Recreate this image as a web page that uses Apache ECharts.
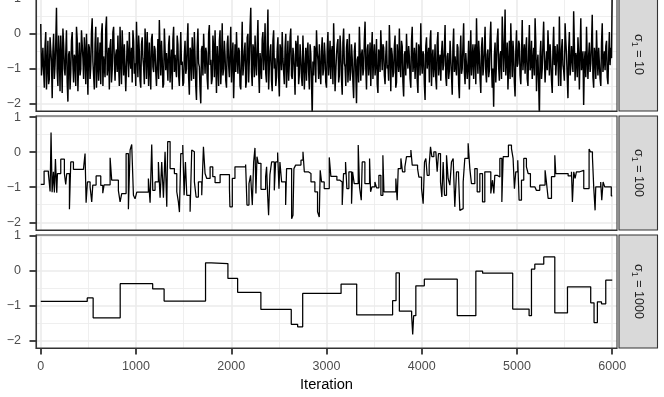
<!DOCTYPE html>
<html><head><meta charset="utf-8">
<script src="https://cdn.jsdelivr.net/npm/echarts@6/dist/echarts.min.js"></script>
<style>html,body{margin:0;padding:0;background:#fff}#c{width:664px;height:397px}</style>
</head><body><div id="c"></div>
<script>
// ---- data ----
const xTicks = [0, 1000, 2000, 3000, 4000, 5000, 6000];
const yTicks = [-2, -1, 0, 1];
const panelSigma = ['10', '100', '1000'];   // strip labels: σ₁ = value
const xAxisTitle = 'Iteration';

// sigma1 = 10 : trace read every 15 iterations (0 .. 6000)
const sigma10Step = 15;
const sigma10Values = [
  0.28, -0.85, -1.05, -0.35, -1.6, -0.2, -1.3, -0.45, -1.85, 0.0, -0.9, 0.75, -1.5, -0.6, -0.05, -1.7, -0.3, -1.2, 0.1, -1.95,
  -0.5, -1.1, 0.05, -1.4, -0.7, 0.2, -1.65, -0.25, -1.0, 0.15, -1.3, -0.55, 0.0, -1.75, -0.4, -0.95, 0.45, -1.2, -0.3, -1.55,
  -0.1, -0.8, -1.45, 0.3, -0.65, -1.25, 0.5, -0.9, -1.6, -0.15, -1.05, 0.2, -1.35, -0.45, -0.05, -1.5, -0.75, 0.1, -1.2, -0.35,
  -1.6, -0.6, 0.05, -1.0, -1.4, -0.2, -0.85, 0.35, -1.25, -0.5, -1.55, -0.1, -0.95, 0.15, -1.3, -0.7, -0.25, -1.6, 0.0, -1.1,
  -0.45, -1.5, -0.15, 0.4, -1.2, -0.7, -1.45, 0.1, -0.55, -1.35, -0.05, -0.9, -1.6, 0.2, -0.6, -1.25, -0.3, -1.5, 0.05, -0.8,
  -1.4, -0.2, -1.0, 0.3, -1.75, -0.5, -0.1, -1.3, -0.65, -1.9, 0.15, -0.95, -2.0, -0.35, 0.0, -1.15, -0.55, -1.6, 0.25, -0.75,
  -1.3, -0.4, 0.1, -1.7, -0.85, -0.2, -1.45, 0.3, -1.0, -0.6, -1.55, -0.05, -1.25, 0.2, -0.7, -1.85, -0.3, 0.05, -1.15, -0.5,
  -1.6, 0.35, -0.9, -0.25, -1.35, 0.0, -0.75, 0.75, -1.5, -0.45, -0.05, -1.2, 0.4, -1.7, -0.6, -0.15, -1.05, 0.3, -1.4, 0.7,
  -0.95, -0.3, -1.65, 0.1, -0.7, -1.25, -0.1, -1.8, -0.5, 0.05, -1.1, -0.4, -1.55, -0.2, -0.85, 0.15, -1.3, -0.6, -1.75, -0.35,
  -0.05, -1.15, -0.7, -1.5, 0.0, -0.9, -1.35, -0.25, -1.6, -0.55, -2.4, -1.2, -0.45, 0.1, -0.75, -0.3, -1.45, -0.1, -1.0, -0.6,
  -1.55, 0.05, -0.8, -1.3, -0.35, 0.3, -1.65, -0.6, -0.15, -1.2, -0.5, -1.75, 0.15, -0.95, -0.4, -1.4, 0.0, -1.1, -0.7, -1.85,
  -0.25, -2.0, -0.65, 0.2, -1.35, -0.45, -1.0, 0.35, -1.6, -0.3, -0.85, -1.5, 0.05, -0.7, -1.2, -0.15, -1.7, -0.55, 0.1, -1.05,
  -0.4, -1.45, -0.2, -0.9, 0.25, -1.65, -0.6, -1.1, -0.05, -1.4, -0.75, 0.15, -1.25, -0.35, -1.8, -0.5, 0.0, -1.0, -0.65, -1.55,
  0.2, -0.85, -1.3, -0.25, -1.7, -0.45, 0.3, -1.15, -0.6, -1.9, -0.1, -0.95, -1.4, 0.1, -0.7, -1.25, -0.3, -1.6, 0.05, -0.8,
  -1.35, -0.2, -0.9, 0.25, -1.5, -0.55, -1.05, -0.15, -1.75, 0.15, -0.65, -1.2, -0.4, -1.85, -0.05, -1.0, 0.3, -1.45, -0.5, -0.9,
  -1.6, 0.1, -0.75, -1.3, -0.3, 0.45, -1.15, -0.6, -1.7, -0.1, -0.95, 0.2, -1.4, -0.45, -1.05, 0.35, -1.55, -2.1, -0.25, -0.8,
  0.15, -1.35, -0.5, 0.5, -1.1, 0.7, -0.7, -1.6, -0.2, 0.3, -1.25, -0.55, -1.8, 0.1, -0.85, -0.3, -1.45, 0.4, -0.65, -1.15,
  -0.1, -1.5, 0.25, -0.9, -1.3, -0.4, 0.45, -1.65, -0.6, -2.4, -0.2, -1.0, 0.35, -1.4, -0.5, 0.1, -1.2, -0.75, -1.7, 0.2,
  -0.35, -1.25, -0.8, 0.5, -1.5, -0.15, -1.05, 0.3, -0.6, -1.85, 0.05, -0.95, -0.4, 0.65, -1.35, -0.7, -0.1, -1.6, 0.45, -1.1,
  -2.05, -0.5, 0.2, -1.3, -0.25, -0.85, 0.55, -1.55, -0.6, 0.1, -1.2, -0.35, -1.5, 0.3, -0.8, -1.05, -0.2, -1.45, 0.05, -0.4,
  1.4
];
// sigma1 = 10 : values read half-way between the points above (iterations 7.5, 22.5, ...)
const sigma10MidValues = [
  -1.2, -0.4, -1.55, 0.05, -0.95, -1.45, -0.1, -0.8, -0.5, -1.3, -0.25, -1.1, -0.05, -1.65, -0.7, 0.15, -1.0, -0.55, -1.4, -0.6,
  -1.6, -0.2, -0.9, -0.6, -1.5, -0.15, -0.85, -1.2, 0.1, -0.7, -0.1, -1.45, -0.75, -0.3, -1.3, 0.05, -0.8, -1.6, 0.2, -0.9,
  -1.35, -0.25, 0.0, -1.5, -0.95, 0.15, -1.2, -0.4, -0.35, -1.4, 0.05, -0.8, -0.6, -1.1, -0.9, 0.2, -1.45, -0.55, -0.3, -1.65,
  -0.2, -1.25, -0.75, -0.4, 0.1, -1.15, -1.5, -0.6, -0.05, -1.35, -0.3, -0.7, -1.45, -0.4, 0.05, -1.5, -1.0, -0.15, -0.95, -0.35,
  -1.1, -0.85, -1.3, -0.5, -0.2, -1.55, 0.15, -1.05, -0.9, -0.3, -1.4, -0.45, -0.15, -1.1, -1.0, -0.05, -1.2, -0.7, -0.9, -1.5,
  -0.6, -1.15, -0.3, -1.25, -0.4, -1.35, -0.7, 0.05, -1.5, -0.4, -0.85, -1.6, -0.45, -1.2, -0.6, -0.4, -1.3, 0.0, -0.9, -1.45,
  -0.05, -1.25, -0.8, -0.35, -1.5, 0.1, -0.9, -1.2, -0.2, -1.35, -0.3, -0.9, -0.5, -1.4, -0.25, -1.0, -1.1, -0.65, -0.4, -1.5,
  -0.7, -1.2, -0.5, -1.55, -0.1, -1.4, 0.2, -1.1, -0.3, -1.25, -0.8, -0.35, -1.05, -0.55, -1.3, 0.05, -0.6, -1.15, -0.3, -1.6,
  -0.5, -1.35, -0.2, -1.0, -1.5, -0.45, -1.25, -0.3, -1.05, -0.7, -1.45, 0.0, -0.9, -1.35, -0.1, -1.2, -0.4, -1.1, -0.2, -0.95,
  -1.45, -0.3, -1.25, -0.05, -1.6, -0.4, -0.55, -1.1, -0.3, -1.35, -0.8, -0.35, -1.4, -0.5, -1.3, -1.05, -0.5, -1.2, -0.25, -1.4,
  -0.45, -1.2, -0.2, -0.55, -1.45, -0.6, -1.1, -0.3, -1.4, -0.05, -1.3, -0.25, -0.85, -1.5, -0.15, -0.9, -1.35, -0.3, -1.4, -0.5,
  -1.1, -0.75, -1.4, -0.5, -0.6, -1.2, -0.15, -1.0, -0.45, -1.2, -0.25, -0.55, -1.3, -0.3, -0.85, -1.45, -0.45, -1.1, -0.5, -0.3,
  -1.2, -0.6, -1.0, -1.35, -0.5, -0.4, -1.25, -0.35, -1.55, -0.3, -1.1, -0.9, -0.2, -1.4, -0.6, -1.2, -0.7, -0.35, -1.3, -0.2,
  -1.1, -0.4, -0.7, -1.35, -0.3, -1.2, -0.8, -0.5, -1.45, -0.35, -1.0, -0.4, -0.2, -1.5, -0.45, -0.9, -1.3, -0.25, -1.2, -0.6,
  -0.55, -1.05, -0.4, -1.25, -0.65, -1.3, -0.2, -1.2, -0.4, -1.1, -0.95, -0.3, -1.45, -0.6, -1.15, -0.35, -1.1, -0.55, -1.3, -0.2,
  -0.75, -1.2, -0.3, -0.55, -1.45, -0.65, -0.2, -1.3, -0.4, -1.2, -0.4, -1.1, -0.6, -1.25, -0.15, -0.9, -1.0, -0.6, -1.4, -0.15,
  -0.95, -0.6, -1.3, -0.2, -0.5, -1.2, -0.25, -0.9, -1.3, -0.55, -0.2, -1.4, -0.5, -0.95, -0.2, -1.2, -0.6, -1.05, -0.3, -0.5,
  -1.3, -0.5, -1.05, -0.2, -0.8, -1.2, -0.25, -0.9, -1.4, -0.6, -1.3, -0.25, -0.7, -0.85, -1.05, -0.45, -0.3, -1.35, -0.45, -0.9,
  -1.2, -0.3, -1.5, -0.7, -0.45, -0.9, -1.35, -0.2, -1.25, -0.45, -1.2, -0.35, -1.1, -0.3, -0.55, -1.25, -0.6, -0.5, -1.05, -0.5,
  -0.8, -1.25, -0.7, -0.6, -1.1, -0.3, -1.25, -0.4, -1.3, -0.7, -0.4, -1.3, -0.25, -1.1, -0.5, -0.35, -1.25, -0.6, -0.9, -0.7
];

// sigma1 = 100 : change points (iteration where value changes) and new values
const sigma100Iter = [
  0, 35, 80, 98, 108, 119, 133, 143, 154, 168, 175, 210, 248, 262, 273, 301, 315, 343, 448, 465,
  476, 490, 518, 535, 546, 581, 630, 651, 665, 728, 745, 815, 833, 850, 896, 920, 938, 955, 973, 990,
  1008, 1095, 1130, 1148, 1165, 1176, 1200, 1235, 1253, 1270, 1288, 1305, 1323, 1333, 1358, 1403, 1428, 1445, 1456, 1470,
  1491, 1505, 1519, 1533, 1568, 1585, 1603, 1613, 1631, 1655, 1690, 1708, 1725, 1743, 1778, 1806, 1830, 1883, 1981, 1986,
  2011, 2039, 2151, 2165, 2186, 2203, 2221, 2235, 2249, 2259, 2270, 2284, 2312, 2361, 2371, 2382, 2392, 2406, 2424, 2452,
  2466, 2487, 2501, 2511, 2529, 2571, 2581, 2634, 2648, 2658, 2676, 2732, 2753, 2767, 2809, 2837, 2878, 2906, 2924, 2934,
  2948, 2976, 3029, 3046, 3109, 3141, 3165, 3179, 3200, 3214, 3235, 3263, 3274, 3291, 3333, 3347, 3365, 3375, 3403, 3452,
  3463, 3477, 3508, 3526, 3550, 3571, 3592, 3603, 3728, 3742, 3753, 3781, 3798, 3823, 3840, 3886, 3900, 3956, 3970, 3998,
  4015, 4029, 4043, 4057, 4078, 4092, 4106, 4127, 4148, 4162, 4176, 4197, 4211, 4225, 4239, 4260, 4277, 4295, 4312, 4330,
  4347, 4365, 4386, 4400, 4417, 4435, 4452, 4487, 4505, 4522, 4557, 4582, 4610, 4638, 4662, 4725, 4743, 4757, 4767, 4792,
  4820, 4841, 4855, 4910, 4942, 4959, 4973, 4987, 5008, 5022, 5047, 5071, 5099, 5117, 5141, 5187, 5204, 5239, 5295, 5309,
  5327, 5362, 5397, 5407, 5537, 5572, 5582, 5596, 5610, 5624, 5659, 5701, 5757, 5771, 5792, 5806, 5820, 5827, 5879, 5890,
  5904, 5921, 5990, 6000
];
const sigma100Values = [
  -0.92, -0.54, -0.61, -1.12, 0.56, -1.14, -0.56, -1.15, -0.2, -1.16, -0.61, -0.2, -0.61, -0.92, -0.61, -1.63, -0.28, -0.49, -0.51, -0.04,
  -1.44, -0.85, -0.99, -1.42, -0.94, -0.68, -0.95, -1.17, -0.93, -0.16, -0.8, -1.1, -1.42, -1.18, -0.04, -1.63, 0.06, 0.22, -1.23, -1.33,
  -1.14, -1.14, -0.75, -1.44, 0.22, -1.09, -0.85, -0.28, -1.3, -0.28, -1.3, 0.01, -1.56, 0.3, -0.47, -0.61, -1.13, -1.42, -1.71, -0.04,
  0.2, -1.23, -0.28, -1.23, -1.7, 0.06, 0.01, -0.85, -1.28, -0.85, -1.23, 0.15, -0.61, -0.75, -0.42, -0.7, -0.87, -0.64, -1.04, -1.56,
  -0.75, -0.42, -0.35, -1.51, -0.9, -0.66, -1.51, -0.28, 0.12, -1.18, -0.13, -0.32, -1.06, -0.7, -0.42, -1.23, -1.8, -0.64, -0.28, -1.09,
  -0.28, -0.01, -1.04, -0.28, -0.85, -1.51, -0.47, -1.9, -1.8, -0.47, -0.37, -0.23, 0.01, -0.56, -0.61, -0.85, -1.13, -1.7, -1.85, -0.52,
  -0.85, -1.04, -0.15, -0.69, -0.8, -0.85, -1.51, -0.61, -0.28, -1.04, -0.56, -1.47, -0.56, -0.9, 0.2, -1.0, -1.37, -0.28, -0.9, -0.18,
  -1.13, -0.99, -0.85, -1.02, -0.66, -1.23, -0.09, -1.13, -0.75, -1.37, -0.47, -0.18, -0.56, -0.42, -0.13, 0.06, -0.37, -0.47, -0.71, -1.04,
  -1.47, -0.28, -0.18, -0.66, -0.37, 0.15, -0.13, 0.01, -0.04, -0.56, -0.04, -0.85, -1.28, -0.28, -1.23, -0.09, -0.75, -0.94, -0.28, -0.18,
  -1.56, -0.56, -0.66, -1.66, -1.61, -0.85, -0.18, 0.25, -0.47, -0.9, -0.47, -1.13, -0.61, -1.42, -0.56, -1.18, -0.8, -1.18, -0.66, -0.71,
  -0.18, -1.42, -0.13, 0.2, 0.1, -0.18, -1.04, -0.56, -0.23, -1.37, -0.8, -0.18, -0.42, -0.61, -0.99, -1.04, -1.09, -0.94, -0.52, -0.85,
  -1.32, -0.7, -0.09, -0.61, -0.68, -0.56, -1.42, -0.56, -0.75, -0.56, -0.52, -1.04, 0.09, 0.01, -0.13, -1.02, -1.66, -0.99, -0.85, -1.37,
  -0.85, -0.99, -1.25, -1.25
];

// sigma1 = 1000 : change points and new values
const sigma1000Iter = [
  0, 488, 550, 834, 1175, 1295, 1730, 1790, 1965, 2067, 2311, 2630, 2697, 2750, 3153, 3317, 3694, 3730, 3765, 3894,
  3905, 3915, 3938, 4027, 4373, 4568, 4639, 4955, 5127, 5152, 5187, 5281, 5397, 5530, 5774, 5809, 5844, 5887, 5932, 6000
];
const sigma1000Values = [
  -0.88, -0.78, -1.35, -0.37, -0.52, -0.87, 0.23, 0.21, -0.22, -0.62, -1.11, -1.54, -1.61, -0.65, -0.38, -1.27, -0.86, -0.06, -1.16, -1.29,
  -1.83, -1.29, -0.43, -0.24, -1.29, -0.01, -0.07, -1.10, -1.29, 0.05, 0.19, 0.40, -1.21, -0.46, -0.92, -1.49, -0.89, -0.95, -0.27, -0.27
];

// ---- build ----
const FONT = '"Liberation Sans", Arial, sans-serif';
const panels = [
  { top: -2, h: 113 },
  { top: 116, h: 114 },
  { top: 235, h: 113 }
];
const PL = 36, PW = 581;

const sigma10Data = [];
sigma10Values.forEach((v, i) => {
  sigma10Data.push([i * sigma10Step, v]);
  if (i < sigma10MidValues.length) sigma10Data.push([i * sigma10Step + sigma10Step / 2, sigma10MidValues[i]]);
});
const seriesData = [
  sigma10Data,
  sigma100Iter.map((x, i) => [x, sigma100Values[i]]),
  sigma1000Iter.map((x, i) => [x, sigma1000Values[i]])
];

const gridLine = { show: true, lineStyle: { color: '#ebebeb', width: 1.6 } };
const minorLine = { show: true, lineStyle: { color: '#ebebeb', width: 0.8 } };
const fmtY = v => (v < 0 ? '\u2212' + Math.abs(v) : String(v));
const tickStyle = { color: '#333333', width: 1.8 };

const option = {
  animation: false,
  backgroundColor: '#ffffff',
  grid: panels.map(p => ({ left: PL, width: PW, top: p.top, height: p.h, show: false, containLabel: false, outerBoundsMode: 'none' })),
  xAxis: panels.map((p, i) => ({
    gridIndex: i, type: 'value', min: -50, max: 6050, position: 'bottom',
    axisLine: { show: true, onZero: false, lineStyle: { color: '#333333', width: 1.1 } },
    axisTick: { show: i === 2, customValues: xTicks, length: 6.5, lineStyle: tickStyle },
    axisLabel: { show: i === 2, customValues: xTicks, formatter: v => String(v), margin: 12, fontSize: 12.5, color: '#4d4d4d', fontFamily: FONT },
    splitLine: gridLine,
    minorTick: { show: false, splitNumber: 2 },
    minorSplitLine: minorLine,
    name: i === 2 ? xAxisTitle : '',
    nameLocation: 'middle', nameGap: 29,
    nameTextStyle: { fontSize: 14.7, color: '#000000', fontFamily: FONT }
  })),
  yAxis: panels.map((p, i) => ({
    gridIndex: i, type: 'value', min: -2.22, max: 1.03, splitNumber: 3, position: 'left',
    axisLine: { show: true, onZero: false, lineStyle: { color: '#333333', width: 1.1 } },
    axisTick: { show: true, customValues: yTicks, length: 6.5, lineStyle: tickStyle },
    axisLabel: { customValues: yTicks, formatter: fmtY, margin: 15, fontSize: 12.5, color: '#4d4d4d', fontFamily: FONT },
    splitLine: gridLine,
    minorTick: { show: false, splitNumber: 2 },
    minorSplitLine: minorLine
  })),
  series: seriesData.map((d, i) => ({
    type: 'line', xAxisIndex: i, yAxisIndex: i, data: d,
    step: i === 0 ? false : 'end',
    showSymbol: false, symbol: 'none', clip: true,
    lineStyle: { color: '#000000', width: i === 0 ? 1.45 : 1.25 },
    emphasis: { disabled: true }
  })),
  graphic: [].concat(
    panels.map(p => ({
      type: 'rect', z: 100, silent: true,
      shape: { x: PL, y: p.top, width: PW, height: p.h },
      style: { fill: null, stroke: '#333333', lineWidth: 1.1 }
    })),
    panels.map(p => ({
      type: 'rect', z: 100, silent: true,
      shape: { x: 619, y: p.top, width: 38.5, height: p.h },
      style: { fill: '#d9d9d9', stroke: '#333333', lineWidth: 1.1 }
    })),
    panels.map((p, i) => ({
      type: 'text', z: 101, silent: true,
      x: 638.3, y: p.top + p.h / 2, rotation: -Math.PI / 2,
      style: {
        text: '{a|σ}{b|1}{a| = ' + panelSigma[i] + '}',
        align: 'center', verticalAlign: 'middle',
        rich: {
          a: { fontSize: 12.5, fontFamily: FONT, fill: '#1a1a1a', lineHeight: 16, verticalAlign: 'middle' },
          b: { fontSize: 9, fontFamily: FONT, fill: '#1a1a1a', lineHeight: 9, verticalAlign: 'bottom' }
        }
      }
    }))
  )
};

const chart = echarts.init(document.getElementById('c'), null, { renderer: 'canvas' });
chart.setOption(option);
</script>
</body></html>
